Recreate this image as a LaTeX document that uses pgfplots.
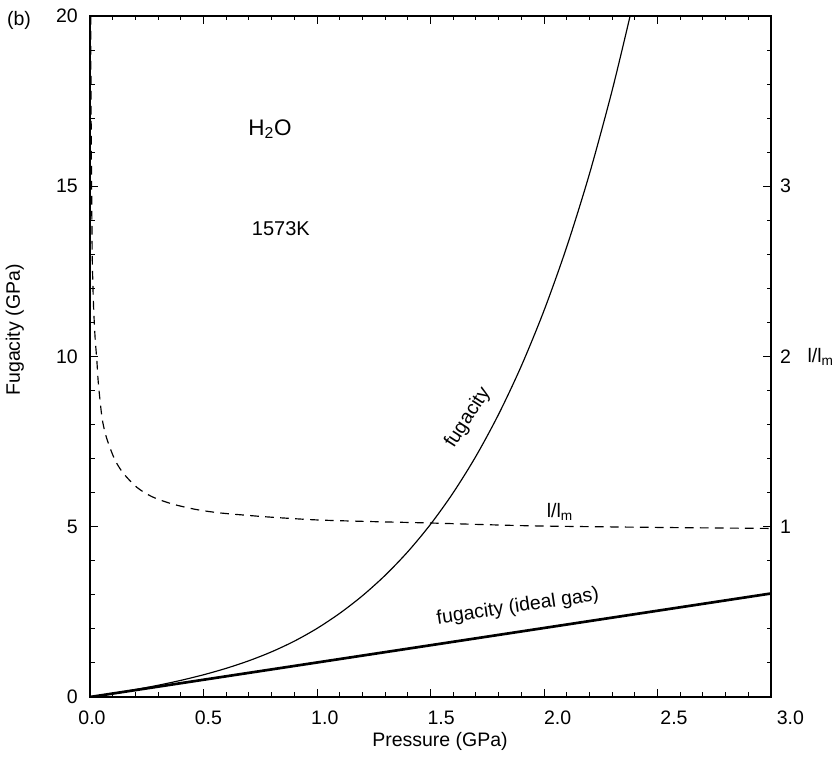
\documentclass[border=0pt]{standalone}
\usepackage{pgfplots}
\usepackage{pgfplotstable}
\pgfplotsset{compat=1.18}
\usepackage{fontspec}
\setmainfont{Liberation Sans}

% fugacity of H2O at 1573 K (GPa) against pressure (GPa)
\pgfplotstableread{
P     f
0.00  0.0000
0.10  0.1041
0.20  0.2180
0.30  0.3449
0.40  0.4883
0.50  0.6524
0.60  0.8425
0.70  1.0648
0.80  1.3272
0.90  1.6396
1.00  2.0138
1.10  2.4569
1.20  2.9729
1.30  3.5721
1.40  4.2668
1.50  5.0706
1.60  5.9990
1.70  7.0698
1.80  8.3029
1.90  9.7207
2.00  11.3492
2.10  13.2175
2.20  15.3583
2.30  17.8091
2.38  20.0210
}\fugacity

% l/l_m against pressure (GPa)
\pgfplotstableread{
P      r
0.003  4.00
0.005  3.40
0.0075 2.92
0.010  2.58
0.015  2.32
0.022  2.12
0.030  1.98
0.037  1.84
0.052  1.65
0.065  1.56
0.081  1.49
0.110  1.392
0.147  1.314
0.206  1.232
0.274  1.176
0.362  1.134
0.465  1.102
0.567  1.082
0.684  1.068
0.800  1.056
1.000  1.040
1.250  1.030
1.500  1.022
1.750  1.012
2.000  1.004
2.500  0.996
3.000  0.990
}\ratio

\newcommand{\tickfont}{\fontsize{11.7}{14}\selectfont}

\pgfplotsset{
  frame/.style={
    scale only axis, width=408.6pt, height=408.6pt,
    xmin=0, xmax=3,
    tick align=inside,
    major tick length=4.8pt, minor tick length=2.7pt,
    every tick/.style={black, line width=0.6pt},
    axis line style={black, line width=0.9pt},
    tick label style={font=\tickfont},
    /pgf/number format/assume math mode=true,
  }
}

\begin{document}
\begin{tikzpicture}
\path[use as bounding box] (-54pt,-36pt) rectangle (445.8pt,418.2pt);

\begin{axis}[frame,
  ymin=0, ymax=20,
  xtick={0,0.5,1,1.5,2,2.5,3}, minor x tick num=4,
  ytick={0,5,10,15,20}, minor y tick num=4,
  xtick pos=both, ytick pos=left,
  xticklabels={},
  yticklabel style={xshift=-3.8pt},
  clip=true,
]
\addplot[black, line width=0.7pt, smooth] table[x=P, y=f] {\fugacity};
\addplot[black, line width=1.6pt] coordinates {(0,0) (3,3.04)};

\node[font=\fontsize{13.5}{16}\selectfont] at (axis cs:0.793,16.68) {H\textsubscript{2}O};
\node[font=\fontsize{12}{14}\selectfont] at (axis cs:0.841,13.75) {1573K};
\node[font=\tickfont, rotate=57] at (axis cs:1.665,8.2) {fugacity};
\node[font=\tickfont] at (axis cs:2.07,5.43) {l/l\textsubscript{m}};
\node[font=\tickfont, rotate=8.5] at (axis cs:1.885,2.64) {fugacity (ideal gas)};
\end{axis}

\begin{axis}[frame,
  ymin=0, ymax=4,
  axis x line=none, axis y line*=right,
  ytick={1,2,3},
  minor ytick={0.2,0.4,0.6,0.8,1.2,1.4,1.6,1.8,2.2,2.4,2.6,2.8,3.2,3.4,3.6,3.8},
  yticklabel style={xshift=2pt},
  clip=true,
]
\addplot[black, line width=0.7pt, dash pattern=on 5.2pt off 3.8pt, smooth] table[x=P, y=r] {\ratio};
\end{axis}

% pressure tick labels, set on their own spacing
\foreach \xp/\lab in {1.2/0.0, 71.04/0.5, 140.88/1.0, 210.72/1.5, 280.56/2.0, 350.4/2.5, 420.24/3.0}
  \node[font=\tickfont, anchor=base, inner sep=0pt] at (\xp pt,-16.8pt) {\lab};

% labels around the frame
\node[font=\tickfont, anchor=base] at (210pt,-29.4pt) {Pressure (GPa)};
\node[font=\tickfont, anchor=base, rotate=90] at (-42pt,220.2pt) {Fugacity (GPa)};
\node[font=\tickfont, anchor=base west] at (427pt,200.4pt) {l/l\textsubscript{m}};
\node[font=\fontsize{11.7}{14}\selectfont] at (-42.6pt,406.2pt) {(b)};
\end{tikzpicture}
\end{document}
